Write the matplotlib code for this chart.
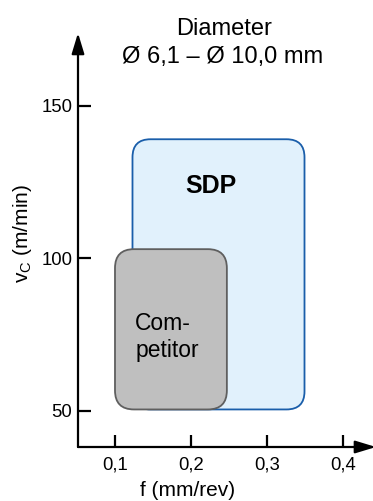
import matplotlib.pyplot as plt
from matplotlib.patches import FancyBboxPatch

plt.rcParams['font.family'] = ['Liberation Sans', 'DejaVu Sans']
plt.rcParams['mathtext.fontset'] = 'custom'
plt.rcParams['mathtext.rm'] = 'Liberation Sans'
plt.rcParams['mathtext.it'] = 'Liberation Sans'

# data
x_ticks = [0.1, 0.2, 0.3, 0.4]
x_ticklabels = ['0,1', '0,2', '0,3', '0,4']
y_ticks = [50, 100, 150]
y_ticklabels = ['50', '100', '150']

sdp_f = [0.123, 0.349]
sdp_vc = [50.5, 139.0]
comp_f = [0.100, 0.247]
comp_vc = [50.5, 103.0]

fig = plt.figure(figsize=(3.73, 5.01), dpi=100)
ax = fig.add_axes([78 / 373, 54 / 501, 295 / 373, 414 / 501])
ax.set_xlim(0.0514, 0.439)
ax.set_ylim(38.2, 173.8)
for s in ax.spines.values():
    s.set_visible(False)

# data units per pixel -> aspect for the rounded corners
x_per_px = (0.439 - 0.0514) / 295
y_per_px = (173.8 - 38.2) / 414
aspect = y_per_px / x_per_px


def rounded_box(f, vc, radius_px, fc, ec, z):
    box = FancyBboxPatch((f[0], vc[0]), f[1] - f[0], vc[1] - vc[0],
                         boxstyle='round,pad=0,rounding_size=%f' % (radius_px * x_per_px),
                         mutation_aspect=aspect, fc=fc, ec=ec, lw=1.3, zorder=z)
    ax.add_patch(box)


rounded_box(sdp_f, sdp_vc, 18, '#e1f1fc', '#1a5eaa', 2)
rounded_box(comp_f, comp_vc, 19, '#bfbfbf', '#5f5f5f', 3)

ax.text(0.2265, 121.3, 'SDP', ha='center', va='baseline',
        fontsize=18, fontweight='bold', zorder=4)
ax.text(0.1265, 67.8, 'Com-\npetitor', ha='left', va='baseline', multialignment='left',
        fontsize=16.5, linespacing=1.2, zorder=4)

# axes with arrows
ax.annotate('', xy=(1.01, 0), xytext=(0, 0), xycoords='axes fraction',
            arrowprops=dict(arrowstyle='-|>,head_length=1.25,head_width=0.38',
                            mutation_scale=10, lw=1.6, color='black', shrinkA=0, shrinkB=0))
ax.annotate('', xy=(0, 1.0), xytext=(0, 0), xycoords='axes fraction',
            arrowprops=dict(arrowstyle='-|>,head_length=1.25,head_width=0.38',
                            mutation_scale=10, lw=1.6, color='black', shrinkA=0, shrinkB=0))

ax.set_xticks(x_ticks)
ax.set_xticklabels(x_ticklabels)
ax.set_yticks(y_ticks)
ax.set_yticklabels(y_ticklabels)
ax.tick_params(axis='both', direction='in', length=9, width=1.6, labelsize=13.3, pad=4)
ax.tick_params(axis='x', pad=7)

ax.set_xlabel('f (mm/rev)', fontsize=15)
ax.xaxis.set_label_coords((188 - 78) / 295, -(500 - 447) / 414)
ax.xaxis.label.set_va('bottom')
ax.set_ylabel('v$_\\mathrm{C}$ (m/min)', fontsize=15)
ax.yaxis.set_label_coords(-(78 - 22) / 295, (447 - 234) / 414)
ax.yaxis.label.set_va('center')

fig.text(224 / 373, 1 - 35 / 501, 'Diameter', ha='center', va='baseline', fontsize=17)
fig.text(223 / 373, 1 - 63 / 501, 'Ø 6,1 – Ø 10,0 mm', ha='center', va='baseline', fontsize=17)

fig.savefig('out.png', dpi=100)
